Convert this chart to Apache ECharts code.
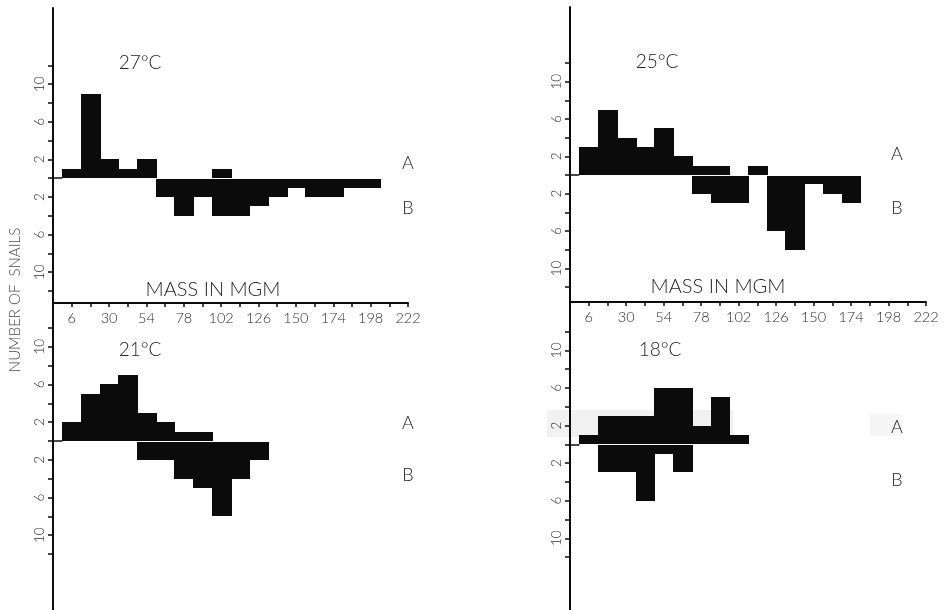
<!DOCTYPE html>
<html>
<head>
<meta charset="utf-8">
<script src="https://cdn.jsdelivr.net/npm/echarts@6/dist/echarts.min.js"></script>
<style>
  html, body { margin: 0; padding: 0; background: #ffffff; }
  #chart { width: 947px; height: 610px; }
</style>
</head>
<body>
<div id="chart"></div>
<script>
// Mass classes (mg), 12 mg wide, given by their centres
const massBins = [6, 18, 30, 42, 54, 66, 78, 90, 102, 114, 126, 138, 150, 162, 174, 186, 198];

// Number of snails per mass class, group A (above) and group B (below)
const a27 = [1, 9, 2, 1, 2, 0, 0, 0, 1, 0, 0, 0, 0, 0, 0, 0, 0];
const b27 = [0, 0, 0, 0, 0, 2, 4, 2, 4, 4, 3, 2, 1, 2, 2, 1, 1];
const a25 = [3, 7, 4, 3, 5, 2, 1, 1, 0, 1, 0, 0, 0, 0, 0, 0, 0];
const b25 = [0, 0, 0, 0, 0, 0, 2, 3, 3, 0, 6, 8, 1, 2, 3, 0, 0];
const a21 = [2, 5, 6, 7, 3, 2, 1, 1, 0, 0, 0, 0, 0, 0, 0, 0, 0];
const b21 = [0, 0, 0, 0, 2, 2, 4, 5, 8, 4, 2, 0, 0, 0, 0, 0, 0];
const a18 = [1, 3, 3, 3, 6, 6, 2, 5, 1, 0, 0, 0, 0, 0, 0, 0, 0];
const b18 = [0, 3, 3, 6, 1, 3, 0, 0, 0, 0, 0, 0, 0, 0, 0, 0, 0];

// Axis ticks
const massTicks = [6, 18, 30, 42, 54, 66, 78, 90, 102, 114, 126, 138, 150, 162, 174, 186, 198, 210, 222];
const massLabels = [6, 30, 54, 78, 102, 126, 150, 174, 198, 222];
const countTicks = [-12, -10, -8, -6, -4, -2, 0, 2, 4, 6, 8, 10, 12];
const countLabels = [-10, -6, -2, 2, 6, 10];

const panels = [
  { title: '27°C', a: a27, b: b27 },
  { title: '25°C', a: a25, b: b25 },
  { title: '21°C', a: a21, b: b21 },
  { title: '18°C', a: a18, b: b18 }
];

const INK = '#0b0b0b';
const TEXT = '#2e2e2e';
const FONT = 'Lato, "DejaVu Sans", sans-serif';

const grids = [
  { left: 53,  top: 8,   width: 355, height: 295 },
  { left: 570, top: 7,   width: 356, height: 295 },
  { left: 53,  top: 303, width: 355, height: 307 },
  { left: 570, top: 302, width: 356, height: 308 }
];
const yRanges = [
  [-13.27, 18.1],
  [-13.6, 18.0],
  [-17.95, 14.65],
  [-17.63, 15.14]
];

const xAxes = grids.map((g, i) => ({
  type: 'value',
  gridIndex: i,
  min: -6,
  max: 222,
  position: 'bottom',
  show: i < 2,
  axisLine: { show: true, onZero: false, lineStyle: { color: INK, width: 2 } },
  axisTick: { show: true, inside: false, length: 4, customValues: massTicks, lineStyle: { color: INK, width: 1.5 } },
  axisLabel: { show: true, customValues: massLabels, color: TEXT, fontSize: 14.5, fontWeight: 300, fontFamily: FONT, margin: 8 },
  splitLine: { show: false }
}));

const yAxes = grids.map((g, i) => ({
  type: 'value',
  gridIndex: i,
  min: yRanges[i][0],
  max: yRanges[i][1],
  axisLine: { show: true, onZero: false, lineStyle: { color: INK, width: 2 } },
  axisTick: { show: true, inside: false, length: 5, customValues: countTicks, lineStyle: { color: INK, width: 1.5 } },
  axisLabel: {
    show: true, customValues: countLabels, rotate: 90, margin: 6,
    color: TEXT, fontSize: 13.5, fontWeight: 300, fontFamily: FONT,
    formatter: v => String(Math.abs(v))
  },
  splitLine: { show: false }
}));

// Each mass class is drawn as a 12 mg wide block from the baseline;
// edges are snapped to whole pixels so neighbouring blocks join cleanly
function blockRenderer(gap) {
  return function (params, api) {
    const c = api.value(0);
    const v = api.value(1);
    if (!v) return null;
    const p0 = api.coord([c - 6, v]);
    const p1 = api.coord([c + 6, 0]);
    const x0 = Math.round(p0[0]);
    const x1 = Math.round(p1[0]) + 1;
    let y0 = Math.round(Math.min(p0[1], p1[1]));
    let y1 = Math.round(Math.max(p0[1], p1[1]));
    if (gap) { y0 += 1; }
    return {
      type: 'rect',
      shape: { x: x0, y: y0, width: x1 - x0, height: y1 - y0 },
      style: { fill: INK }
    };
  };
}

const series = [];
panels.forEach((p, i) => {
  series.push({
    type: 'custom', name: 'A', xAxisIndex: i, yAxisIndex: i,
    renderItem: blockRenderer(false),
    data: massBins.map((m, k) => [m, p.a[k]]),
    markLine: {
      silent: true, symbol: 'none', label: { show: false },
      lineStyle: { color: INK, width: 1.5, type: 'solid' },
      data: [[{ coord: [-6, 0] }, { coord: [0, 0] }]]
    }
  });
  series.push({
    type: 'custom', name: 'B', xAxisIndex: i, yAxisIndex: i,
    renderItem: blockRenderer(true),
    data: massBins.map((m, k) => [m, -p.b[k]])
  });
});

function text(x, y, s, size, extra) {
  return Object.assign({
    type: 'text', x: x, y: y, z: 10,
    style: { text: s, fill: '#1e1e1e', fontSize: size, fontWeight: 300, fontFamily: FONT, align: 'center', verticalAlign: 'middle' }
  }, extra || {});
}

const graphic = [
  // faded patch in the 18°C panel
  { type: 'rect', z: -10, shape: { x: 547, y: 410, width: 186, height: 27 }, style: { fill: '#f1f1f1' } },
  { type: 'rect', z: -10, shape: { x: 870, y: 414, width: 32, height: 22 }, style: { fill: '#f5f5f5' } },

  text(140, 63, '27°C', 19),
  text(657, 62, '25°C', 19),
  text(140, 350, '21°C', 19),
  text(660, 350, '18°C', 19),

  text(213, 290, 'MASS IN MGM', 20),
  text(718, 287, 'MASS IN MGM', 20),

  text(408, 163, 'A', 18), text(408, 208, 'B', 18),
  text(897, 154, 'A', 18), text(897, 208, 'B', 18),
  text(408, 423, 'A', 18), text(408, 475, 'B', 18),
  text(897, 427, 'A', 18), text(897, 480, 'B', 18),

  {
    type: 'text', x: 15, y: 300, rotation: Math.PI / 2, z: 10,
    style: { text: 'NUMBER OF  SNAILS', fill: '#4a4a4a', fontSize: 15, fontWeight: 300, fontFamily: FONT, align: 'center', verticalAlign: 'middle' }
  }
];

const chart = echarts.init(document.getElementById('chart'), null, { renderer: 'canvas' });
chart.setOption({
  animation: false,
  backgroundColor: '#ffffff',
  grid: grids,
  xAxis: xAxes,
  yAxis: yAxes,
  series: series,
  graphic: graphic
});
</script>
</body>
</html>
